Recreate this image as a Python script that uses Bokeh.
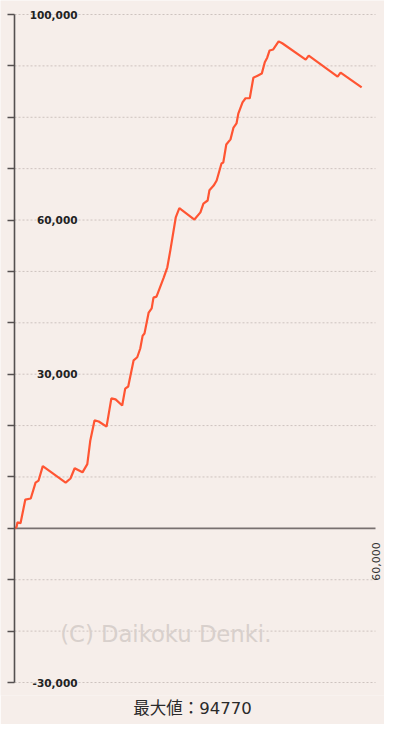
import math
from bokeh.plotting import figure
from bokeh.models import Range1d, LinearAxis, FixedTicker, Label, Title
from bokeh.core.properties import value
from bokeh.embed import file_html
from bokeh.resources import INLINE

# ---- data ----
games = [0, 330, 500, 1000, 1800, 2700, 3500, 4000, 4700,
         8500, 9300, 10000, 11300, 12100, 12600, 13300, 14000, 15300,
         16100, 16800, 17900, 18400, 18900, 19800, 20400, 20900, 21300, 21600,
         22300, 22800, 23100, 23600, 24800, 25400, 25900, 26800, 27400, 29900,
         30900, 31400, 32100, 32400, 33100, 33600, 34400, 34700, 35200, 35900,
         36400, 36900, 37200, 37900, 38400, 39100, 39700, 40400, 41100, 41600,
         42000, 42400, 43000, 43900, 44500, 48400, 48900, 53700, 54200, 57700]
balance = [0, 200, 1200, 1000, 5600, 5800, 8900, 9300, 12100,
           8900, 9700, 11700, 10900, 12500, 17100, 21000, 20800, 19800,
           25300, 25100, 23900, 27200, 27600, 32700, 33300, 35000, 37500, 37900,
           42000, 42800, 44900, 45100, 48800, 50800, 54100, 60500, 62300, 60100,
           61500, 63200, 63800, 65800, 66700, 67700, 71000, 71200, 74700, 75700,
           78000, 78800, 80700, 82900, 83700, 83700, 87700, 88100, 88500, 90700,
           91600, 93000, 93200, 94770, 94400, 91200, 92000, 87900, 88700, 85800]

y_ticks = [-30000, -20000, -10000, 0, 10000, 20000, 30000, 40000, 50000,
           60000, 70000, 80000, 90000, 100000]
y_label_values = [100000, 60000, 30000, -30000]
x_label_values = [60000]
max_value = 94770
title_text = "最大値：" + str(max_value)
watermark_text = "(C) Daikoku Denki."
WM_X, WM_Y = 7600, -20600

X_MIN, X_MAX = 0, 60000
Y_MIN, Y_MAX = -30000, 100000

# ---- layout ----
W, H = 384, 724
FRAME_H = 695
AXIS_PX = 14
TOP_PX = 14
X_SPAN_PX = 361
Y_SPAN_PX = 668
ux = (X_MAX - X_MIN) / X_SPAN_PX
uy = (Y_MAX - Y_MIN) / Y_SPAN_PX

BG = "#f6eeea"

p = figure(frame_width=W, frame_height=FRAME_H,
           x_range=Range1d(X_MIN - AXIS_PX * ux, X_MIN + (W - AXIS_PX) * ux),
           y_range=Range1d(Y_MAX - (FRAME_H - TOP_PX) * uy, Y_MAX + TOP_PX * uy),
           x_axis_location=None, y_axis_location=None,
           min_border_left=0, min_border_right=0, min_border_top=0,
           min_border_bottom=H - FRAME_H,
           output_backend="svg", toolbar_location=None,
           background_fill_color=BG, border_fill_color=BG,
           outline_line_color=None)
p.xgrid.visible = False
p.ygrid.visible = False

# dotted gridlines
grid_vals = [t for t in y_ticks if t != 0]
p.segment(x0=[X_MIN] * len(grid_vals), x1=[X_MAX] * len(grid_vals),
          y0=grid_vals, y1=grid_vals,
          line_color="#cdc3bf", line_width=1, line_dash="2 2")

# zero line
p.segment(x0=[X_MIN], x1=[X_MAX], y0=[0], y1=[0],
          line_color="#787070", line_width=1.6)

# y axis at x = 0
yaxis = LinearAxis(fixed_location=X_MIN, ticker=FixedTicker(ticks=y_ticks),
                   bounds=(Y_MIN, Y_MAX),
                   major_tick_out=7, major_tick_in=0,
                   minor_tick_out=0, minor_tick_in=0,
                   axis_line_color="#555050", axis_line_width=1.6,
                   major_tick_line_color="#555050", major_tick_line_width=1.6,
                   major_label_text_color=None)
p.add_layout(yaxis, "left")

# y tick labels (inside, right of axis)
p.text(x=[X_MIN] * len(y_label_values), y=y_label_values,
       text=["{:,}".format(v) for v in y_label_values],
       x_offset=63, text_align="right", text_baseline="middle",
       text_font=value("DejaVu Sans"), text_font_style="bold",
       text_font_size="10.5px", text_color="#222222")

# x label (rotated)
p.text(x=x_label_values, y=[0] * len(x_label_values),
       text=["{:,}".format(v) for v in x_label_values],
       y_offset=14, angle=math.pi / 2, text_align="right",
       text_baseline="middle",
       text_font=value("DejaVu Sans"), text_font_size="11px",
       text_color="#333333")

# data line
p.line(games, balance, line_color="#ff5533", line_width=2.2)

# watermark
p.add_layout(Label(x=WM_X, y=WM_Y, text=watermark_text,
                   text_font="DejaVu Sans", text_font_size="22.7px",
                   text_color="#d8d0cc", text_baseline="middle"))

# bottom title
p.add_layout(Title(text=title_text, align="center",
                   text_font="DejaVu Sans, Noto Sans CJK JP",
                   text_font_size="16.5px",
                   text_font_style="normal", text_color="#2a2a2a",
                   standoff=2, offset=0), "below")

open("out.html", "w").write(file_html(p, INLINE))
